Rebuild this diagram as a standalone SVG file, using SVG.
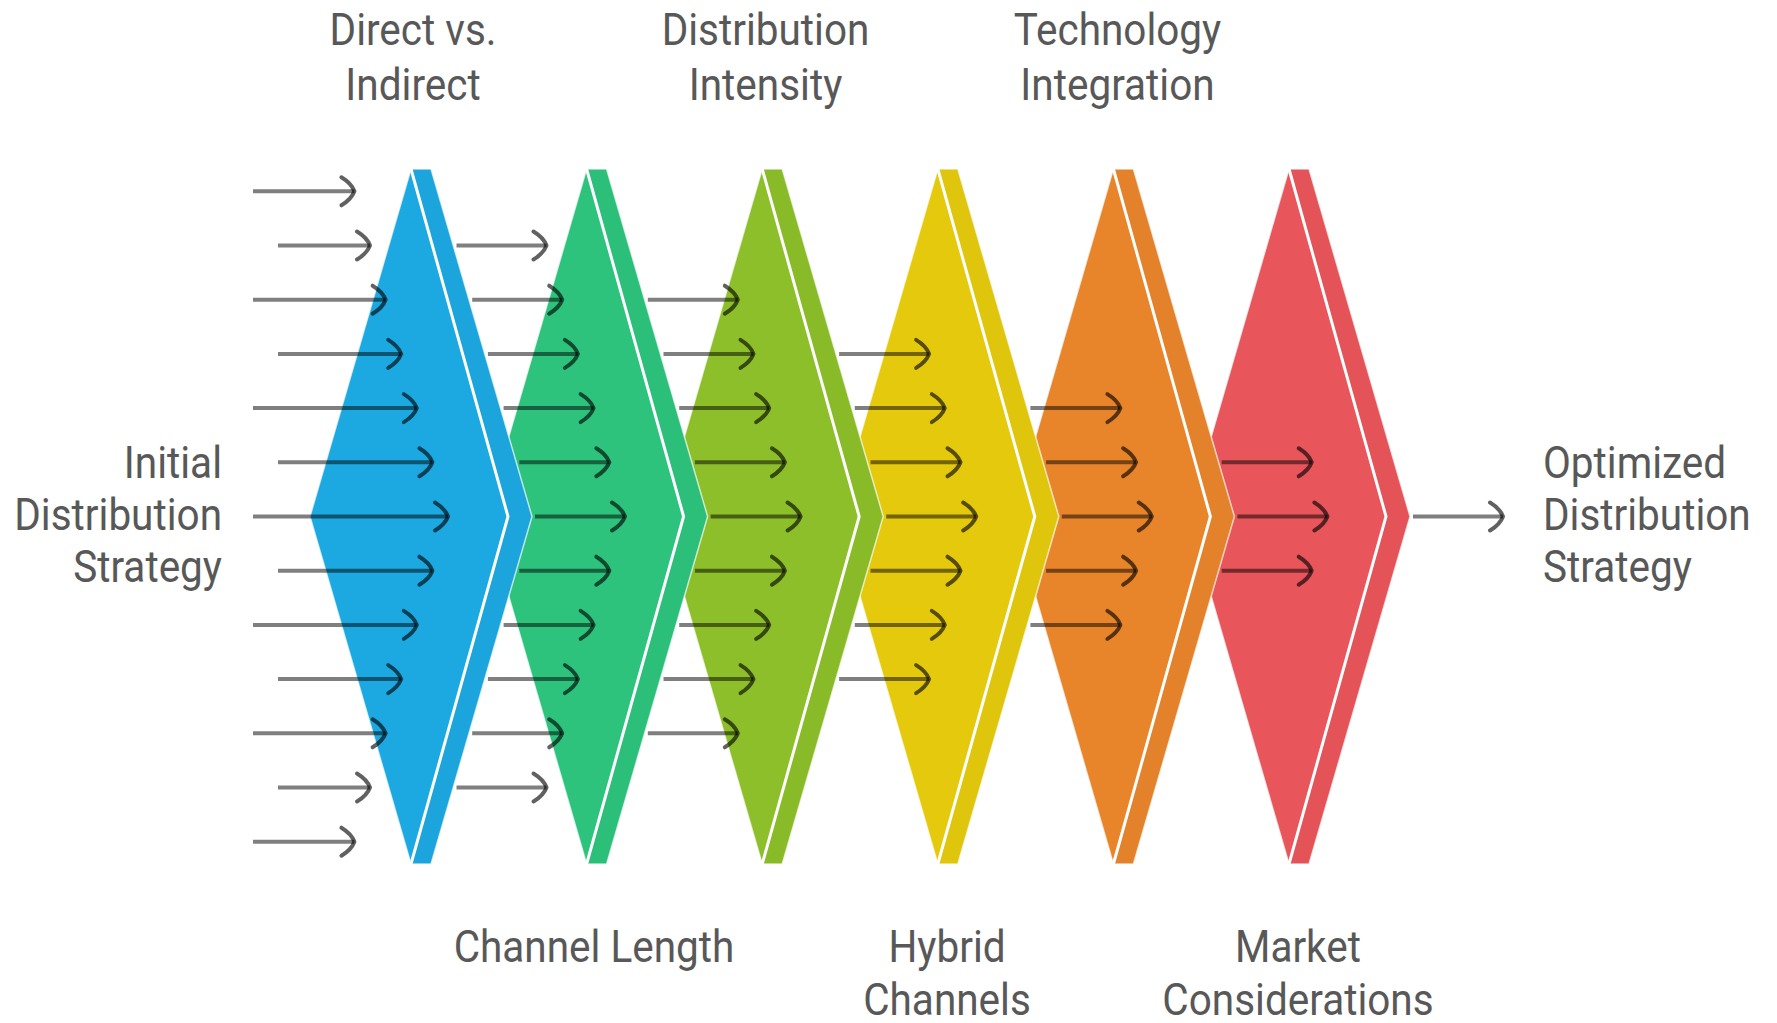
<svg xmlns="http://www.w3.org/2000/svg" xmlns:xlink="http://www.w3.org/1999/xlink" width="1777" height="1023" viewBox="0 0 1777 1023">
<style>
.lbl{font-family:Roboto,"Liberation Sans","DejaVu Sans",sans-serif;font-size:45px;fill:#585858}
.arr{fill:none;stroke:#000;stroke-opacity:.5;stroke-width:4;marker-end:url(#ah)}
</style>
<defs>
<marker id="ah" markerUnits="userSpaceOnUse" viewBox="-16 -17 20 34" markerWidth="20" markerHeight="34" refX="0" refY="0" orient="auto" overflow="visible">
<path d="M-13,-14 Q-3,-8 0,0 Q-3,8 -13,14" fill="none" stroke="#000" stroke-opacity=".62" stroke-width="4" stroke-linecap="round" stroke-linejoin="round"/>
</marker>
<g id="dia">
<polygon points="411,169 431,169 532,516.5 431,864 411,864 310,516.5" stroke="#fff" stroke-width="1.5" stroke-opacity=".7"/>
<polygon points="411,169 431,169 532,516.5 431,864 411,864 508,516.5" fill="#000" fill-opacity=".02"/>
<polyline points="411,169 508,516.5 411,864" fill="none" stroke="#fff" stroke-width="3"/>
</g>
</defs>
<rect width="1777" height="1023" fill="#fff"/>

<g id="node-market">
<use xlink:href="#dia" href="#dia" fill="#E8555A" transform="translate(878 0)"/>
<text class="lbl" transform="translate(1298 0) scale(0.9 1)" text-anchor="middle"><tspan x="0" y="962">Market</tspan><tspan x="0" y="1015">Considerations</tspan></text>
</g>
<g id="node-technology">
<use xlink:href="#dia" href="#dia" fill="#E8852B" transform="translate(702.4 0)"/>
<text class="lbl" transform="translate(1117.5 0) scale(0.9 1)" text-anchor="middle"><tspan x="0" y="45">Technology</tspan><tspan x="0" y="100">Integration</tspan></text>
</g>
<g id="node-hybrid">
<use xlink:href="#dia" href="#dia" fill="#E4C90D" transform="translate(526.8 0)"/>
<text class="lbl" transform="translate(947 0) scale(0.9 1)" text-anchor="middle"><tspan x="0" y="962">Hybrid</tspan><tspan x="0" y="1015">Channels</tspan></text>
</g>
<g id="node-intensity">
<use xlink:href="#dia" href="#dia" fill="#8CBF2A" transform="translate(351.2 0)"/>
<text class="lbl" transform="translate(765.5 0) scale(0.9 1)" text-anchor="middle"><tspan x="0" y="45">Distribution</tspan><tspan x="0" y="100">Intensity</tspan></text>
</g>
<g id="node-channel-length">
<use xlink:href="#dia" href="#dia" fill="#2DC37D" transform="translate(175.6 0)"/>
<text class="lbl" transform="translate(594 0) scale(0.9 1)" text-anchor="middle"><tspan x="0" y="962">Channel Length</tspan></text>
</g>
<g id="node-direct">
<use xlink:href="#dia" href="#dia" fill="#1CA9E1"/>
<text class="lbl" transform="translate(413 0) scale(0.9 1)" text-anchor="middle"><tspan x="0" y="45">Direct vs.</tspan><tspan x="0" y="100">Indirect</tspan></text>
</g>

<g id="node-initial">
<text class="lbl" transform="translate(222 0) scale(0.9 1)" text-anchor="end"><tspan x="0" y="478">Initial</tspan><tspan x="0" y="530">Distribution</tspan><tspan x="0" y="582">Strategy</tspan></text>
</g>
<g id="node-optimized">
<text class="lbl" transform="translate(1543 0) scale(0.9 1)" text-anchor="start"><tspan x="0" y="478">Optimized</tspan><tspan x="0" y="530">Distribution</tspan><tspan x="0" y="582">Strategy</tspan></text>
</g>

<g id="connectors">
<path class="arr" d="M253 191.3H354.4"/>
<path class="arr" d="M278 245.5H370"/>
<path class="arr" d="M253 299.7H385.6"/>
<path class="arr" d="M278 353.9H401.2"/>
<path class="arr" d="M253 408.1H416.8"/>
<path class="arr" d="M278 462.3H432.4"/>
<path class="arr" d="M253 516.5H448"/>
<path class="arr" d="M278 570.7H432.4"/>
<path class="arr" d="M253 624.9H416.8"/>
<path class="arr" d="M278 679.1H401.2"/>
<path class="arr" d="M253 733.3H385.6"/>
<path class="arr" d="M278 787.5H370"/>
<path class="arr" d="M253 841.7H354.4"/>

<path class="arr" d="M456.5 245.5H546.5"/>
<path class="arr" d="M472.2 299.7H562.2"/>
<path class="arr" d="M487.9 353.9H577.9"/>
<path class="arr" d="M503.6 408.1H593.6"/>
<path class="arr" d="M519.3 462.3H609.3"/>
<path class="arr" d="M535 516.5H625"/>
<path class="arr" d="M519.3 570.7H609.3"/>
<path class="arr" d="M503.6 624.9H593.6"/>
<path class="arr" d="M487.9 679.1H577.9"/>
<path class="arr" d="M472.2 733.3H562.2"/>
<path class="arr" d="M456.5 787.5H546.5"/>

<path class="arr" d="M647.8 299.7H737.8"/>
<path class="arr" d="M663.5 353.9H753.5"/>
<path class="arr" d="M679.2 408.1H769.2"/>
<path class="arr" d="M694.9 462.3H784.9"/>
<path class="arr" d="M710.6 516.5H800.6"/>
<path class="arr" d="M694.9 570.7H784.9"/>
<path class="arr" d="M679.2 624.9H769.2"/>
<path class="arr" d="M663.5 679.1H753.5"/>
<path class="arr" d="M647.8 733.3H737.8"/>

<path class="arr" d="M839.1 353.9H929.1"/>
<path class="arr" d="M854.8 408.1H944.8"/>
<path class="arr" d="M870.5 462.3H960.5"/>
<path class="arr" d="M886.2 516.5H976.2"/>
<path class="arr" d="M870.5 570.7H960.5"/>
<path class="arr" d="M854.8 624.9H944.8"/>
<path class="arr" d="M839.1 679.1H929.1"/>

<path class="arr" d="M1030.4 408.1H1120.4"/>
<path class="arr" d="M1046.1 462.3H1136.1"/>
<path class="arr" d="M1061.8 516.5H1151.8"/>
<path class="arr" d="M1046.1 570.7H1136.1"/>
<path class="arr" d="M1030.4 624.9H1120.4"/>

<path class="arr" d="M1221.7 462.3H1311.7"/>
<path class="arr" d="M1237.4 516.5H1327.4"/>
<path class="arr" d="M1221.7 570.7H1311.7"/>

<path class="arr" d="M1413 516.5H1503"/>
</g>
</svg>
